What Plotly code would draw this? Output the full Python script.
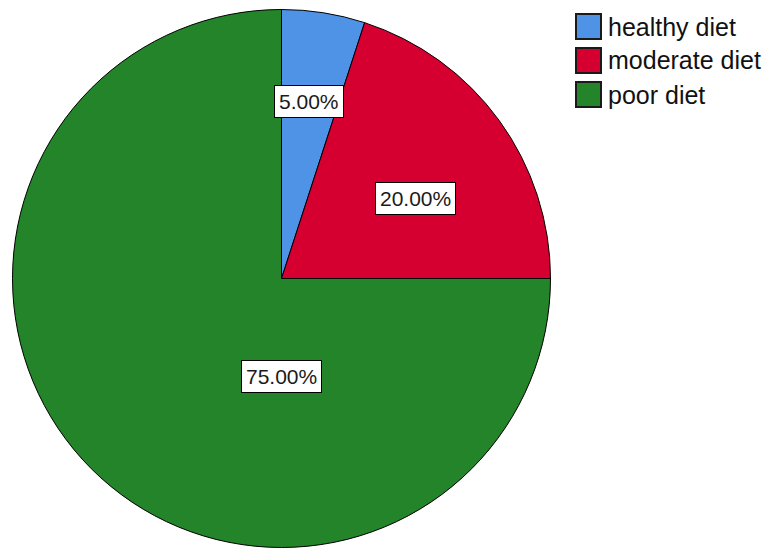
import plotly.graph_objects as go

# Diet quality distribution
categories = ["healthy diet", "moderate diet", "poor diet"]
percentages = [5.0, 20.0, 75.0]

# Styling
slice_colors = ["#4F93E6", "#D5002F", "#248429"]
W, H = 769, 552
FONT = "Liberation Sans, Arial, sans-serif"

# Pie circle geometry in pixels (center x, center y, radius)
cx, cy, rad = 281.5, 278.5, 269.0

# Label box centers in pixels, one per slice
label_px = [(309, 102), (415, 198), (281, 376)]

fig = go.Figure(
    go.Pie(
        labels=categories,
        values=percentages,
        sort=False,
        direction="clockwise",
        rotation=0,
        marker=dict(colors=slice_colors, line=dict(color="#000000", width=1)),
        textinfo="none",
        hoverinfo="label+percent",
        showlegend=False,
        domain=dict(
            x=[(cx - rad) / W, (cx + rad) / W],
            y=[1 - (cy + rad) / H, 1 - (cy - rad) / H],
        ),
    )
)

# Value labels in white boxes
for val, (px, py) in zip(percentages, label_px):
    fig.add_annotation(
        x=px / W, y=1 - py / H, xref="paper", yref="paper",
        text=f"{val:.2f}%", showarrow=False,
        font=dict(family=FONT, size=21, color="#1a1a1a"),
        bgcolor="#ffffff", bordercolor="#000000", borderwidth=1, borderpad=4,
        xanchor="center", yanchor="middle",
    )

# Legend: colored squares with category names
leg_x0, leg_y0, box, step = 576, 14, 25, 34
shapes = []
for i, (name, col) in enumerate(zip(categories, slice_colors)):
    top = leg_y0 + i * step
    shapes.append(dict(
        type="rect", xref="paper", yref="paper",
        x0=leg_x0 / W, x1=(leg_x0 + box) / W,
        y0=1 - (top + box) / H, y1=1 - top / H,
        fillcolor=col, line=dict(color="#1a1a1a", width=2),
    ))
    fig.add_annotation(
        x=(leg_x0 + box + 5) / W, y=1 - (top + box / 2) / H,
        xref="paper", yref="paper", text=name, showarrow=False,
        font=dict(family=FONT, size=25, color="#111111"),
        xanchor="left", yanchor="middle",
    )

fig.update_layout(
    width=W, height=H,
    margin=dict(l=0, r=0, t=0, b=0),
    paper_bgcolor="#ffffff", plot_bgcolor="#ffffff",
    shapes=shapes,
)

fig.write_html("out.html")
